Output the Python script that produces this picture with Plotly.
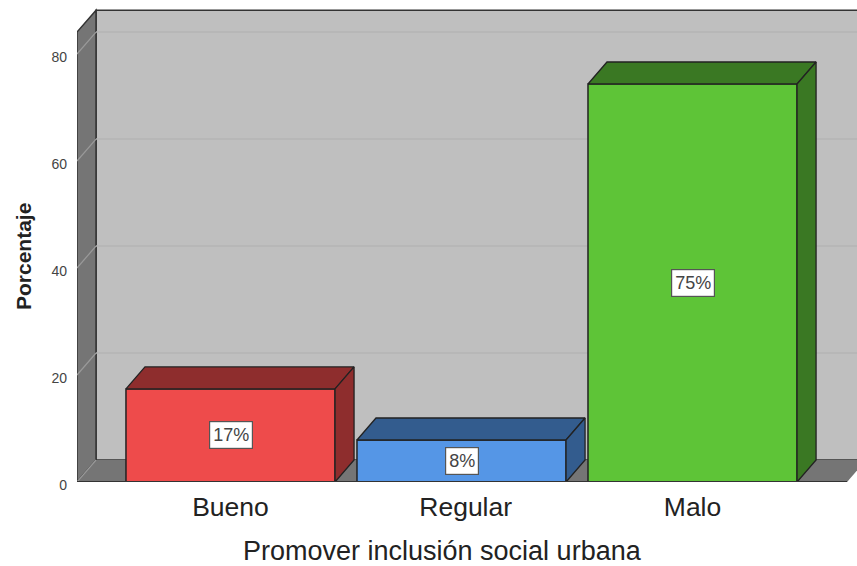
import plotly.graph_objects as go

categories = ["Bueno", "Regular", "Malo"]
percent = [17.4, 7.85, 74.4]
labels = ["17%", "8%", "75%"]
front_colors = ["#ee4b4b", "#5596e6", "#5ec437"]
side_colors = ["#8e2d2d", "#335c8e", "#3a7823"]
y_ticks = [0, 20, 40, 60, 80]

W, H = 857, 566
BAR_W = 0.905
DX, DY = 0.0823, 4.11
X_MIN, X_MAX, X_END = -0.6645, 2.712, 2.669
Y_MAX, WALL_TOP = 89.16, 88.2
EDGE = "#222222"
FONT = "Liberation Sans, Arial, sans-serif"

xs = list(range(len(categories)))
label_nudge = [0, 0.018, 0]


def poly(points):
    return "M " + " L ".join(f"{x} {y}" for x, y in points) + " Z"


fig = go.Figure()
shapes = [
    dict(type="path", layer="below", line=dict(color="#333333", width=1.5), fillcolor="#bfbfbf",
         path=poly([(X_MIN + DX, DY), (X_MAX + 1, DY), (X_MAX + 1, WALL_TOP), (X_MIN + DX, WALL_TOP)])),
    dict(type="path", layer="below", line=dict(color="#333333", width=1.5), fillcolor="#757575",
         path=poly([(X_MIN, 0), (X_MIN + DX, DY), (X_MIN + DX, WALL_TOP), (X_MIN, WALL_TOP - DY)])),
    dict(type="path", layer="below", line=dict(color="#757575", width=0), fillcolor="#757575",
         path=poly([(X_MIN, 0), (X_END, 0), (X_END + DX, DY), (X_MIN + DX, DY)])),
]
for t in y_ticks:
    if t > 0:
        shapes.append(dict(type="line", layer="below", x0=X_MIN + DX, x1=X_MAX + 1, y0=t + DY, y1=t + DY,
                           line=dict(color="#b4b4b4", width=1.5)))
    shapes.append(dict(type="line", layer="below", x0=X_MIN, x1=X_MIN + DX, y0=t, y1=t + DY,
                       line=dict(color="#9a9a9a", width=1.2)))
shapes.append(dict(type="line", layer="above", x0=X_MIN, x1=X_END, y0=0, y1=0,
                   line=dict(color="#333333", width=1.8)))

fig.add_trace(go.Bar(x=xs, y=percent, width=BAR_W,
                     marker=dict(color=front_colors, line=dict(color=EDGE, width=1.5)),
                     hoverinfo="skip", showlegend=False))

for x, v, side in zip(xs, percent, side_colors):
    l, r = x - BAR_W / 2, x + BAR_W / 2
    fig.add_trace(go.Scatter(x=[l, r, r + DX, l + DX, l], y=[v, v, v + DY, v + DY, v],
                             mode="lines", fill="toself", fillcolor=side,
                             line=dict(color=EDGE, width=1.3), hoverinfo="skip", showlegend=False))
    fig.add_trace(go.Scatter(x=[r, r + DX, r + DX, r, r], y=[0, DY, v + DY, v, 0],
                             mode="lines", fill="toself", fillcolor=side,
                             line=dict(color=EDGE, width=1.3), hoverinfo="skip", showlegend=False))

annotations = [
    dict(x=x, y=v / 2, text=t, showarrow=False, font=dict(family=FONT, size=18, color="#444444"),
         bgcolor="white", bordercolor="#555555", borderwidth=1.2, borderpad=3)
    for x, v, t in zip(xs, percent, labels)
]
annotations.append(dict(xref="paper", yref="paper", x=(442 - 77) / (W - 77), y=(566 - 551 - 84) / (H - 89),
                        xanchor="center", yanchor="middle", text="Promover inclusión social urbana",
                        showarrow=False, font=dict(family=FONT, size=27, color="#222222")))
annotations.append(dict(xref="paper", yref="paper", x=(23 - 77) / (W - 77), y=(482 - 257) / (H - 89),
                        xanchor="center", yanchor="middle", text="<b>Porcentaje</b>", textangle=-90,
                        showarrow=False, font=dict(family=FONT, size=21, color="#222222")))

fig.update_layout(
    width=W, height=H, margin=dict(l=77, r=0, t=5, b=84, autoexpand=False),
    paper_bgcolor="white", plot_bgcolor="white", showlegend=False,
    shapes=shapes, annotations=annotations,
    xaxis=dict(range=[X_MIN, X_MAX], tickmode="array", tickvals=[x + n for x, n in zip(xs, label_nudge)],
               ticktext=categories, showgrid=False, zeroline=False, showline=False, ticks="",
               ticklabelstandoff=6, tickfont=dict(family=FONT, size=26.5, color="#222222")),
    yaxis=dict(range=[0, Y_MAX], tickmode="array", tickvals=y_ticks, showgrid=False, zeroline=False,
               showline=False, ticks="", ticklabelstandoff=9, ticklabelshift=3,
               tickfont=dict(family=FONT, size=14, color="#444444")),
)

fig.write_html("out.html", config={"displayModeBar": False},
               post_script="document.body.style.margin='0';document.body.style.overflow='hidden';")
